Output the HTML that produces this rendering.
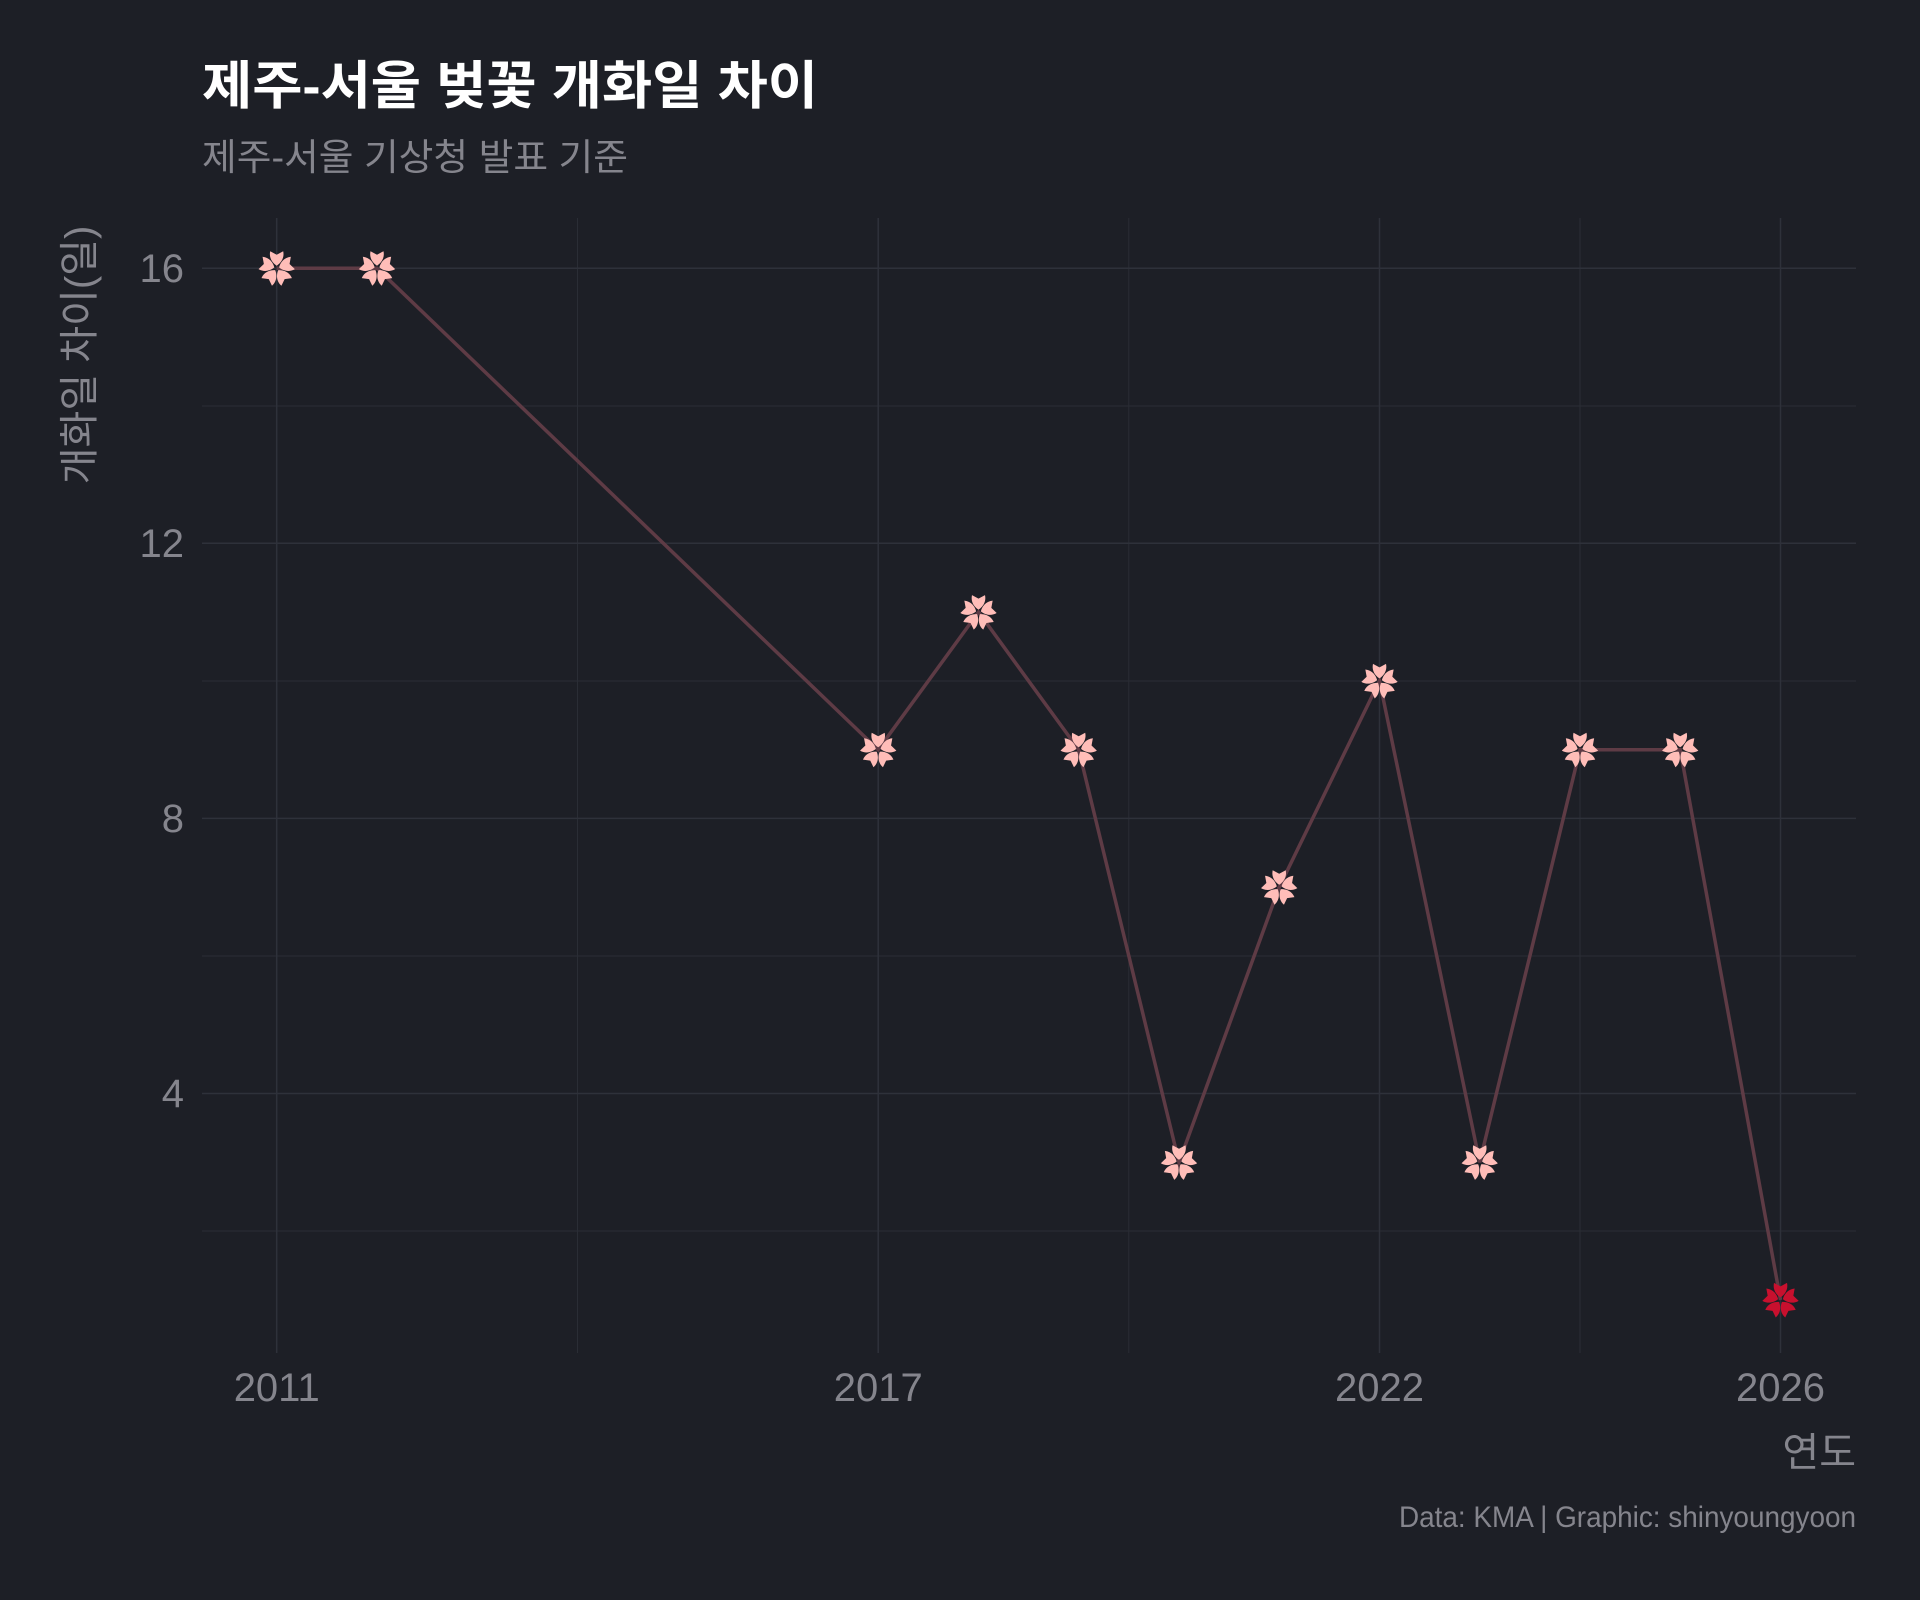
<!DOCTYPE html>
<html><head><meta charset="utf-8"><style>
html,body{margin:0;padding:0;background:#1d1f26;}
svg{display:block}
text{font-family:"Liberation Sans","Noto Sans CJK KR",sans-serif;}
</style></head><body>
<svg width="1920" height="1600" viewBox="0 0 1920 1600" xmlns="http://www.w3.org/2000/svg">
<rect width="1920" height="1600" fill="#1d1f26"/>
<defs>
<g id="fl">
<path id="pt" d="M0,-2.5 C-4,-5 -8,-10 -6.5,-17 L0,-13.5 L6.5,-17 C8,-10 4,-5 0,-2.5 Z"/>
<use href="#pt" transform="rotate(72)"/>
<use href="#pt" transform="rotate(144)"/>
<use href="#pt" transform="rotate(216)"/>
<use href="#pt" transform="rotate(288)"/>
</g>
</defs>
<g stroke="#2a2d35" stroke-width="1">
<line x1="202" x2="1856" y1="1231" y2="1231"/><line x1="202" x2="1856" y1="956" y2="956"/>
<line x1="202" x2="1856" y1="681" y2="681"/><line x1="202" x2="1856" y1="406" y2="406"/>
<line x1="577.5" x2="577.5" y1="218" y2="1353"/><line x1="1128.8" x2="1128.8" y1="218" y2="1353"/><line x1="1580" x2="1580" y1="218" y2="1353"/>
</g>
<g stroke="#2e313a" stroke-width="1.5">
<line x1="202" x2="1856" y1="1093.5" y2="1093.5"/><line x1="202" x2="1856" y1="818.4" y2="818.4"/>
<line x1="202" x2="1856" y1="543.3" y2="543.3"/><line x1="202" x2="1856" y1="268.2" y2="268.2"/>
<line x1="276.7" x2="276.7" y1="218" y2="1353"/><line x1="878.2" x2="878.2" y1="218" y2="1353"/>
<line x1="1379.5" x2="1379.5" y1="218" y2="1353"/><line x1="1780.5" x2="1780.5" y1="218" y2="1353"/>
</g>
<polyline fill="none" stroke="#5e3b45" stroke-width="3.5" points="276.7,268.2 377,268.2 878.2,749.7 978.5,612.1 1078.7,749.7 1179,1162.3 1279.2,887.2 1379.5,680.9 1479.7,1162.3 1580,749.7 1680.2,749.7 1780.5,1299.9"/>
<g fill="#ffbdb8">
<use href="#fl" x="276.7" y="268.2"/><use href="#fl" x="377" y="268.2"/>
<use href="#fl" x="878.2" y="749.7"/><use href="#fl" x="978.5" y="612.1"/>
<use href="#fl" x="1078.7" y="749.7"/><use href="#fl" x="1179" y="1162.3"/>
<use href="#fl" x="1279.2" y="887.2"/><use href="#fl" x="1379.5" y="680.9"/>
<use href="#fl" x="1479.7" y="1162.3"/><use href="#fl" x="1580" y="749.7"/>
<use href="#fl" x="1680.2" y="749.7"/>
</g>
<use href="#fl" x="1780.5" y="1299.9" fill="#c8102e"/>
<text x="202" y="104" font-size="52" font-weight="bold" fill="#ffffff" textLength="616" lengthAdjust="spacingAndGlyphs">제주-서울 벚꽃 개화일 차이</text>
<text x="202" y="170" font-size="37" fill="#85858d" textLength="426" lengthAdjust="spacingAndGlyphs">제주-서울 기상청 발표 기준</text>
<g font-size="40" fill="#85858d" text-anchor="end">
<text x="184" y="1107">4</text><text x="184" y="832">8</text>
<text x="184" y="557">12</text><text x="184" y="282">16</text>
</g>
<g font-size="40" fill="#85858d" text-anchor="middle">
<text x="276.7" y="1401">2011</text><text x="878.2" y="1401">2017</text>
<text x="1379.5" y="1401">2022</text><text x="1780.5" y="1401">2026</text>
</g>
<text x="1856" y="1466" font-size="40" fill="#85858d" text-anchor="end">연도</text>
<text transform="translate(93,355) rotate(-90)" font-size="40" fill="#85858d" text-anchor="middle">개화일 차이(일)</text>
<text x="1399" y="1527" font-size="30" fill="#85858d" textLength="457" lengthAdjust="spacingAndGlyphs">Data: KMA | Graphic: shinyoungyoon</text>
</svg>
</body></html>
